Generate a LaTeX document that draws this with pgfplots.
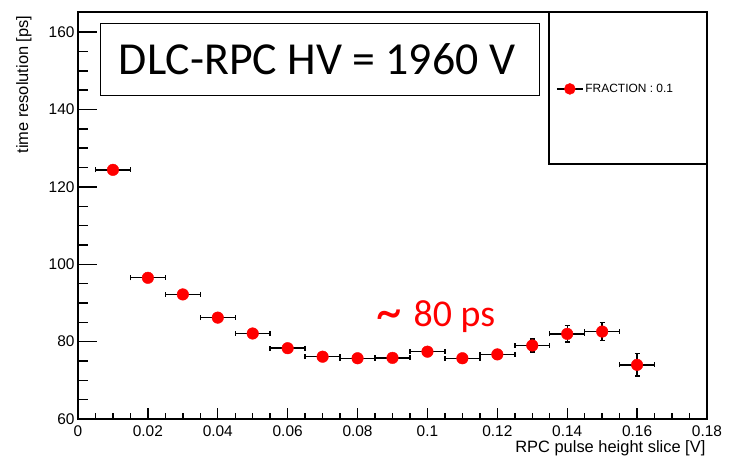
\documentclass[border=0pt]{standalone}
\usepackage{pgfplots}
\pgfplotsset{compat=1.18}
\usepackage{fontspec}
\setmainfont{Liberation Sans}
\newfontfamily\calfont{Carlito}
\pgfplotstableread{
x y ex ey
0.01 124.4 0.005 0.5
0.02 96.5 0.005 0.5
0.03 92.2 0.005 0.5
0.04 86.2 0.005 0.5
0.05 82.1 0.005 0.5
0.06 78.3 0.005 0.5
0.07 76.1 0.005 0.5
0.08 75.7 0.005 0.5
0.09 75.8 0.005 0.5
0.10 77.4 0.005 0.6
0.11 75.7 0.005 0.6
0.12 76.7 0.005 0.8
0.13 79.0 0.005 1.7
0.14 82.0 0.005 2.1
0.15 82.6 0.005 2.3
0.16 74.0 0.005 2.9
}\datatable
\begin{document}
\begin{tikzpicture}
\useasboundingbox (-78bp,-43bp) rectangle (653bp,419bp);
\pgfplotsset{
  common/.style={
    at={(0bp,0bp)}, anchor=south west, scale only axis,
    width=629bp, height=407bp,
    xmin=0, xmax=0.18, ymin=60, ymax=165.2,
    axis line style={line width=1.6bp, black},
    tick style={line width=1.4bp, black},
    tick align=inside, tick pos=left,
    /pgf/number format/assume math mode=true,
    tick label style={font=\fontsize{15.5}{18}\selectfont},
    label style={font=\fontsize{16.5}{19}\selectfont},
  }
}
% y axis ticks
\begin{axis}[common,
  ytick={60,80,100,120,140,160}, minor y tick num=3,
  xtick=\empty,
  major tick length=19bp, minor tick length=10bp,
  ylabel={time resolution [ps]},
  ylabel style={at={(axis description cs:-0.0859,1.0)}, anchor=east},
]
\end{axis}
% x axis ticks and data
\begin{axis}[common,
  xtick={0,0.02,0.04,0.06,0.08,0.1,0.12,0.14,0.16,0.18}, minor x tick num=3,
  ytick=\empty,
  major tick length=11bp, minor tick length=6bp,
  xticklabel style={/pgf/number format/fixed, /pgf/number format/precision=2, yshift=-3bp},
  xlabel={RPC pulse height slice [V]},
  xlabel style={at={(axis description cs:1.003,-0.0811)}, anchor=base east},
  legend style={at={(axis description cs:0.76,0.811)}, anchor=west, draw=none, fill=none,
    font=\fontsize{12}{14}\selectfont, inner sep=0pt},
  legend image code/.code={
    \draw[black, line width=1.2bp] (0bp,0bp) -- (26bp,0bp);
    \fill[red] (13bp,0bp) circle (5.5bp);
  },
]
\addplot[only marks, mark=*, mark size=5.8bp, mark options={draw=red, fill=red},
  error bars/.cd, x dir=both, x explicit, y dir=both, y explicit,
  error bar style={line width=1.4bp, black},
  error mark options={rotate=90, line width=1.4bp, black, mark size=2.5bp}]
  table[x=x, y=y, x error=ex, y error=ey] {\datatable};
\addlegendentry{FRACTION : 0.1}
\end{axis}
\draw[line width=1.2bp] (471bp,255bp) rectangle (629bp,407bp);
\draw[line width=1bp, fill=white] (22bp,323bp) rectangle (461bp,395bp);
\node[anchor=base, inner sep=0pt, font=\calfont\fontsize{46}{50}\selectfont] at (239bp,344bp) {DLC-RPC HV = 1960 V};
\node[anchor=base west, inner sep=0pt, text=red, font=\calfont\fontsize{38}{40}\selectfont] at (298bp,92bp) {\raisebox{-4bp}{\scalebox{1.35}[1.5]{\textasciitilde}}\hspace{12bp}80 ps};
\end{tikzpicture}
\end{document}
